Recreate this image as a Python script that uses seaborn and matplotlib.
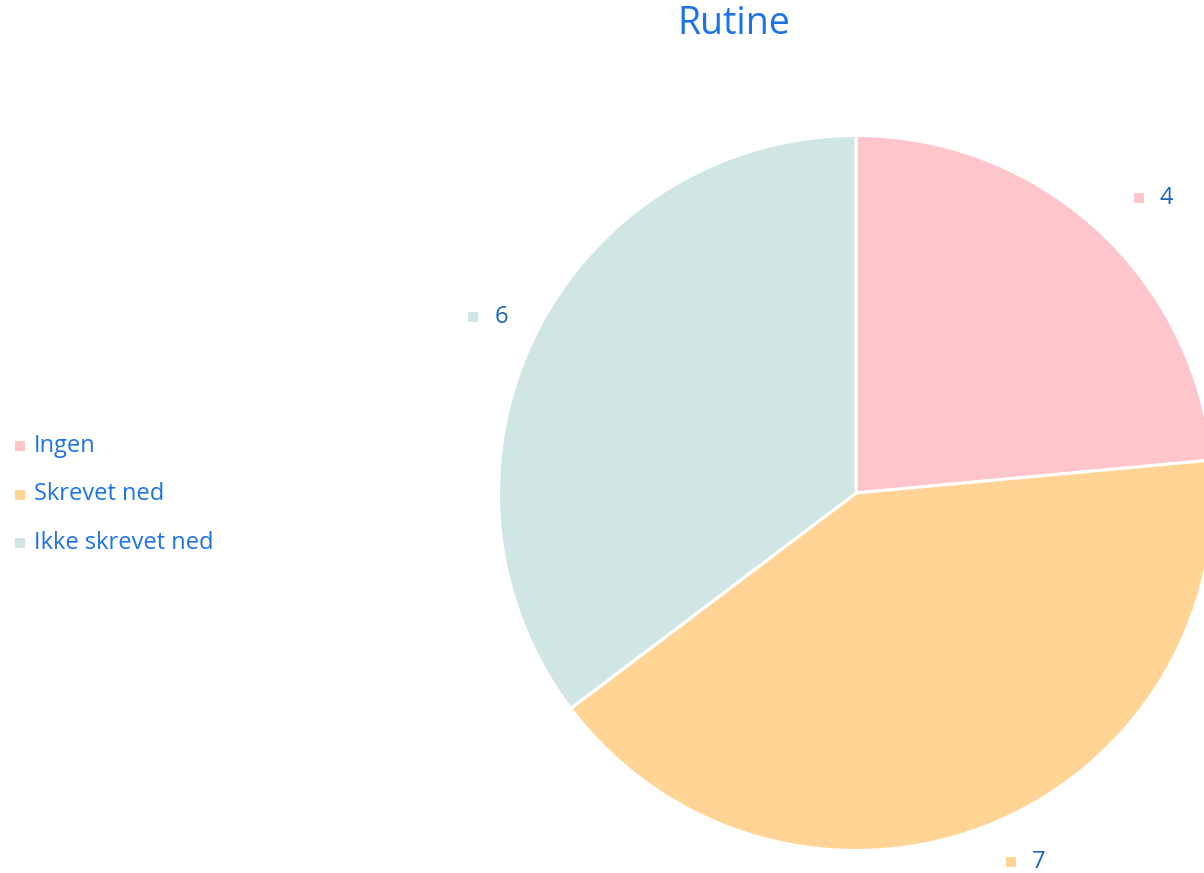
import seaborn as sns
import matplotlib.pyplot as plt
import numpy as np

# data
categories = ['Ingen', 'Skrevet ned', 'Ikke skrevet ned']
values = [4, 7, 6]
colors = ['#FEC5CB', '#FFD495', '#CFE6E4']
title = 'Rutine'

sns.set_theme(style='white')
plt.rcParams['font.family'] = ['Open Sans', 'DejaVu Sans']
palette = sns.color_palette(colors)

W, H = 1204, 873
fig = plt.figure(figsize=(W / 100, H / 100), dpi=100)
ax = fig.add_axes([0, 0, 1, 1])

cx, cy, r = 856, H - 493, 357.5
wedges, _ = ax.pie(values, colors=palette, startangle=90, counterclock=False,
                   center=(cx, cy), radius=r, frame=True,
                   wedgeprops=dict(edgecolor='white', linewidth=2.2))
ax.set_xlim(0, W)
ax.set_ylim(0, H)
ax.set_aspect('equal')
ax.axis('off')

# value labels outside slices
for w, v, c in zip(wedges, values, palette):
    ang = np.deg2rad((w.theta1 + w.theta2) / 2)
    mx = cx + 1.14 * r * np.cos(ang)
    my = cy + 1.14 * r * np.sin(ang) - 6
    if np.cos(ang) < 0:
        mx -= 18
    else:
        mx += 8
    my = max(my, 11)
    ax.scatter([mx], [my], marker='s', s=60, color=c, zorder=5, linewidths=0)
    ax.text(mx + 21, my, str(v), color='#1565C0', fontsize=17,
            va='center', ha='left')

# legend on the left
for i, (cat, c) in enumerate(zip(categories, palette)):
    ly = H - 446 - i * 48.5
    ax.scatter([20], [ly], marker='s', s=60, color=c, zorder=5, linewidths=0)
    ax.text(34, ly, cat, color='#1A73E8', fontsize=17, va='center', ha='left')

fig.text(734 / W, 1 - 24 / H, title, color='#1A73E8', fontsize=27,
         ha='center', va='center')

fig.savefig('out.png', dpi=100)
